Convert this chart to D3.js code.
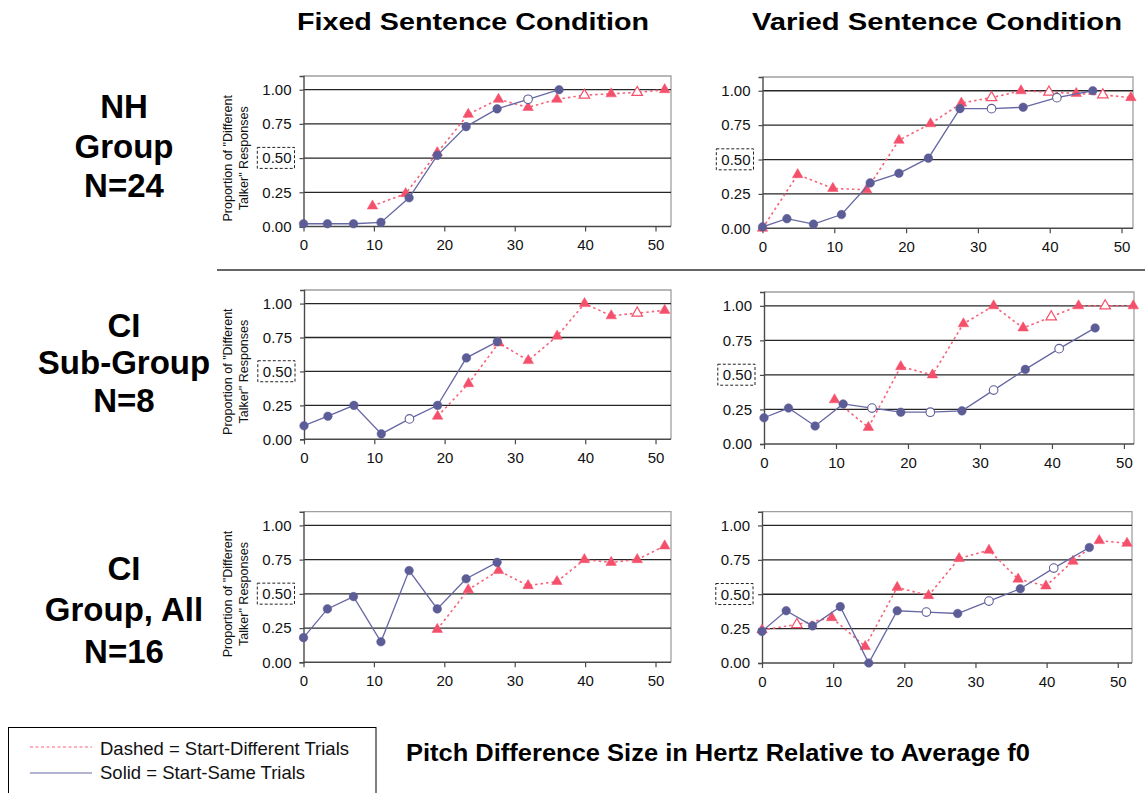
<!DOCTYPE html>
<html>
<head>
<meta charset="utf-8">
<script src="https://cdn.jsdelivr.net/npm/d3@7"></script>
<style>
  body { margin: 0; background: #fff; }
  svg { display: block; }
  text { font-family: "Liberation Sans", Arial, Helvetica, sans-serif; }
</style>
</head>
<body>
<svg id="chart" width="1145" height="793"></svg>
<script>
// Pitch differences (Hz) at which each trial type was tested
const solidX  = [0, 3.4, 7.1, 11, 15, 19, 23.1, 27.5, 31.9, 36.3, 41, 46];
const dashedX = [0, 4.9, 9.8, 14.5, 19, 23.4, 27.7, 31.9, 36, 39.9, 43.7, 47.4, 51.3];

// Proportion of "different talker" responses (null = not tested)
const nhFixedSolid     = [0.02, 0.02, 0.02, 0.03, 0.21, 0.52, 0.73, 0.86, 0.93, 1.00, null, null];
const nhFixedDashed    = [null, null, 0.15, 0.24, 0.54, 0.82, 0.93, 0.87, 0.93, 0.96, 0.97, 0.98, 1.00];
const nhVariedSolid    = [0.01, 0.07, 0.03, 0.10, 0.33, 0.40, 0.51, 0.87, 0.87, 0.88, 0.95, 1.00];
const nhVariedDashed   = [0.00, 0.39, 0.29, 0.28, 0.64, 0.76, 0.91, 0.95, 1.00, 0.99, 0.98, 0.97, 0.95];
const ciSubFixedSolid  = [0.10, 0.17, 0.25, 0.04, 0.15, 0.25, 0.60, 0.72, null, null, null, null];
const ciSubFixedDashed = [null, null, null, null, 0.17, 0.41, 0.71, 0.58, 0.76, 1.00, 0.91, 0.93, 0.95];
const ciSubVariedSolid = [0.19, 0.26, 0.13, 0.29, 0.26, 0.23, 0.23, 0.24, 0.39, 0.54, 0.69, 0.84];
const ciSubVariedDashed= [null, null, 0.32, 0.12, 0.56, 0.50, 0.87, 1.00, 0.84, 0.92, 1.00, 1.00, 1.00];
const ciAllFixedSolid  = [0.18, 0.39, 0.48, 0.15, 0.67, 0.39, 0.61, 0.73, null, null, null, null];
const ciAllFixedDashed = [null, null, null, null, 0.24, 0.53, 0.67, 0.56, 0.59, 0.75, 0.73, 0.75, 0.85];
const ciAllVariedSolid = [0.23, 0.38, 0.27, 0.41, 0.00, 0.38, 0.37, 0.36, 0.45, 0.54, 0.69, 0.84];
const ciAllVariedDashed= [0.24, 0.28, 0.33, 0.12, 0.55, 0.49, 0.76, 0.82, 0.61, 0.56, 0.74, 0.89, 0.87];

// Indices of points drawn with hollow markers
const nhFixedOpen     = { solid: [8],           dashed: [9, 11] };
const nhVariedOpen    = { solid: [8, 10],       dashed: [7, 9, 11] };
const ciSubFixedOpen  = { solid: [4],           dashed: [11] };
const ciSubVariedOpen = { solid: [4, 6, 8, 10], dashed: [9, 11] };
const ciAllFixedOpen  = { solid: [],            dashed: [] };
const ciAllVariedOpen = { solid: [6, 8, 10],    dashed: [1] };

// Axis ticks
const xTicks = [0, 10, 20, 30, 40, 50];
const yTicks = [0, 0.25, 0.5, 0.75, 1.0];

// Titles
const columnTitles = ["Fixed Sentence Condition", "Varied Sentence Condition"];
const rowTitles = [["NH", "Group", "N=24"], ["CI", "Sub-Group", "N=8"], ["CI", "Group, All", "N=16"]];
const xAxisTitle = "Pitch Difference Size in Hertz Relative to Average f0";
const yAxisTitle = ["Proportion of \"Different", "Talker\" Responses"];
const legendLabels = ["Dashed = Start-Different Trials", "Solid = Start-Same Trials"];

const SOLID_LINE = "#6667a3", SOLID_MARK = "#5c5d97";
const DASH_LINE = "#f7637a", DASH_MARK = "#f5506b";

const panels = [
  { solid: nhFixedSolid,     dashed: nhFixedDashed,     open: nhFixedOpen,     x0: 303.5, x1: 671,  xMax: 52.2, top: 76,    bottom: 226.5, yLabel: true },
  { solid: nhVariedSolid,    dashed: nhVariedDashed,    open: nhVariedOpen,    x0: 762.5, x1: 1133, xMax: 51.6, top: 77,    bottom: 228.3, yLabel: false },
  { solid: ciSubFixedSolid,  dashed: ciSubFixedDashed,  open: ciSubFixedOpen,  x0: 304,   x1: 671,  xMax: 52.2, top: 290,   bottom: 439.3, yLabel: true },
  { solid: ciSubVariedSolid, dashed: ciSubVariedDashed, open: ciSubVariedOpen, x0: 764,   x1: 1134, xMax: 51.4, top: 292,   bottom: 444,   yLabel: false },
  { solid: ciAllFixedSolid,  dashed: ciAllFixedDashed,  open: ciAllFixedOpen,  x0: 303.5, x1: 671,  xMax: 52.2, top: 511.7, bottom: 662.3, yLabel: true },
  { solid: ciAllVariedSolid, dashed: ciAllVariedDashed, open: ciAllVariedOpen, x0: 762,   x1: 1132, xMax: 52.0, top: 511.7, bottom: 663,   yLabel: false }
];

const svg = d3.select("#chart");
svg.append("rect").attr("width", 1145).attr("height", 793).attr("fill", "#fff");

const triangle = d3.symbol().type(d3.symbolTriangle).size(48);

panels.forEach(p => {
  const x = d3.scaleLinear().domain([0, p.xMax]).range([p.x0, p.x1]);
  const y = d3.scaleLinear().domain([0, 1.1]).range([p.bottom, p.top]);
  const g = svg.append("g");

  // frame (top / right)
  g.append("path")
    .attr("d", `M${p.x0},${y(1.1)}H${p.x1}V${p.bottom}`)
    .attr("fill", "none").attr("stroke", "#a0a0a0").attr("stroke-width", 1.3);

  // gridlines
  g.selectAll("line.grid").data(yTicks.filter(d => d > 0)).join("line")
    .attr("x1", p.x0).attr("x2", p.x1)
    .attr("y1", d => y(d)).attr("y2", d => y(d))
    .attr("stroke", "#262626").attr("stroke-width", 1.3);

  // axes
  const ya = g.append("g").attr("transform", `translate(${p.x0},0)`)
    .call(d3.axisLeft(y).tickValues(yTicks).tickFormat(d3.format(".2f")).tickSize(4).tickPadding(8));
  const xa = g.append("g").attr("transform", `translate(0,${p.bottom})`)
    .call(d3.axisBottom(x).tickValues(xTicks).tickSize(5).tickPadding(8));
  [ya, xa].forEach(a => {
    a.select(".domain").attr("stroke", "#4a4a4a").attr("stroke-width", 1.4);
    a.selectAll(".tick line").attr("stroke", "#4a4a4a").attr("stroke-width", 1.2);
    a.selectAll("text").attr("font-size", 15).attr("fill", "#111")
      .attr("font-family", "'Liberation Sans', Arial, sans-serif");
  });
  xa.select(".domain").attr("d", `M${p.x0},0H${p.x1}`);

  // dashed box around the 0.50 label
  ya.selectAll(".tick").filter(d => d === 0.5).each(function () {
    const t = d3.select(this).select("text");
    const bb = t.node().getBBox();
    d3.select(this).append("rect")
      .attr("x", bb.x - 5).attr("y", bb.y - 2)
      .attr("width", bb.width + 8).attr("height", bb.height + 4)
      .attr("fill", "none").attr("stroke", "#222").attr("stroke-width", 1)
      .attr("stroke-dasharray", "3,2");
  });

  const line = d3.line().defined(d => d.v != null).x(d => x(d.x)).y(d => y(d.v));
  const dashedPts = dashedX.map((xv, i) => ({ x: xv, v: p.dashed[i], open: p.open.dashed.includes(i) }));
  const solidPts = solidX.map((xv, i) => ({ x: xv, v: p.solid[i], open: p.open.solid.includes(i) }));

  // start-different (dashed) series
  g.append("path").datum(dashedPts).attr("d", line)
    .attr("fill", "none").attr("stroke", DASH_LINE).attr("stroke-width", 1.6)
    .attr("stroke-dasharray", "2.5,3");
  g.selectAll("path.tri").data(dashedPts.filter(d => d.v != null)).join("path")
    .attr("class", "tri")
    .attr("d", triangle)
    .attr("transform", d => `translate(${x(d.x)},${y(d.v)})`)
    .attr("fill", d => d.open ? "#fff" : DASH_MARK)
    .attr("stroke", DASH_MARK).attr("stroke-width", d => d.open ? 1.2 : 0.5);

  // start-same (solid) series
  g.append("path").datum(solidPts).attr("d", line)
    .attr("fill", "none").attr("stroke", SOLID_LINE).attr("stroke-width", 1.3);
  g.selectAll("circle.dot").data(solidPts.filter(d => d.v != null)).join("circle")
    .attr("class", "dot")
    .attr("cx", d => x(d.x)).attr("cy", d => y(d.v)).attr("r", 4.3)
    .attr("fill", d => d.open ? "#fff" : SOLID_MARK)
    .attr("stroke", SOLID_MARK).attr("stroke-width", d => d.open ? 1.1 : 0.5);

  // y-axis title
  if (p.yLabel) {
    const cy = (p.top + p.bottom) / 2 + 7;
    yAxisTitle.forEach((s, i) => {
      svg.append("text")
        .attr("transform", `translate(${231.5 + i * 16},${cy}) rotate(-90)`)
        .attr("text-anchor", "middle").attr("font-size", 12.5).attr("fill", "#111")
        .text(s);
    });
  }
});

// column titles
[[473, columnTitles[0], 352], [937, columnTitles[1], 370]].forEach(([cx, s, len]) => {
  svg.append("text").attr("x", cx - len / 2).attr("y", 30)
    .attr("font-size", 24).attr("font-weight", "bold").attr("fill", "#000")
    .attr("textLength", len).attr("lengthAdjust", "spacingAndGlyphs")
    .text(s);
});

// row titles
const rowBaselines = [[118, 158, 197], [337, 374, 412], [580, 621, 663]];
rowTitles.forEach((lines, r) => {
  lines.forEach((s, i) => {
    svg.append("text").attr("x", 124).attr("y", rowBaselines[r][i])
      .attr("text-anchor", "middle").attr("font-size", 33).attr("font-weight", "bold")
      .attr("fill", "#000").text(s);
  });
});

// separator between NH and CI rows
svg.append("line").attr("x1", 217).attr("x2", 1145).attr("y1", 270).attr("y2", 270)
  .attr("stroke", "#333").attr("stroke-width", 1.5);

// x-axis title
svg.append("text").attr("x", 406).attr("y", 761)
  .attr("font-size", 23).attr("font-weight", "bold").attr("fill", "#000")
  .attr("textLength", 624).attr("lengthAdjust", "spacingAndGlyphs")
  .text(xAxisTitle);

// legend
const lg = svg.append("g");
lg.append("rect").attr("x", 8.5).attr("y", 727.5).attr("width", 367.5).attr("height", 80)
  .attr("fill", "#fff").attr("stroke", "#000").attr("stroke-width", 1);
lg.append("line").attr("x1", 30).attr("x2", 92).attr("y1", 747).attr("y2", 747)
  .attr("stroke", DASH_LINE).attr("stroke-width", 1).attr("stroke-dasharray", "3,2.5");
lg.append("line").attr("x1", 30).attr("x2", 92).attr("y1", 773).attr("y2", 773)
  .attr("stroke", SOLID_LINE).attr("stroke-width", 1.2);
legendLabels.forEach((s, i) => {
  lg.append("text").attr("x", 100).attr("y", 755 + i * 23.5)
    .attr("font-size", 18.5).attr("fill", "#111").text(s);
});
</script>
</body>
</html>
